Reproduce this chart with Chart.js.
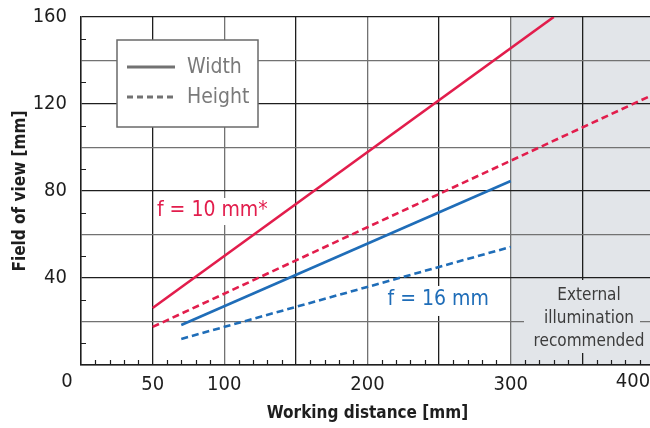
<!DOCTYPE html>
<html>
<head>
<meta charset="utf-8">
<script src="https://cdn.jsdelivr.net/npm/chart.js@4.4.1/dist/chart.umd.min.js"></script>
<style>
  html, body { margin: 0; padding: 0; background: #fff; overflow: hidden; }
  #wrap { width: 662px; height: 428px; position: relative; }
</style>
</head>
<body>
<div id="wrap"><canvas id="fov-chart"></canvas></div>
<script>
// working distance [mm] -> field of view [mm]
const f10Distance = [50, 330]
const f10Width = [26.2, 160]
const f10HeightDistance = [50, 400]
const f10Height = [17.5, 124.5]
const f16Distance = [70, 300]
const f16Width = [18.4, 84.6]
const f16Height = [12, 54.3]

const xGridTicks = [0, 50, 100, 150, 200, 250, 300, 350, 400]
const xTickLabels = [50, 100, 200, 300]
const yTickLabels = [40, 80, 120, 160]
const shadeFrom = 300
const shadeText = ['External', 'illumination', 'recommended']
const seriesNames = ['Width', 'Height']
const lensLabels = ['f = 10 mm*', 'f = 16 mm']

const RED = '#e21d4c'
const BLUE = '#1f6db8'
const SHADE = '#e2e5e9'
const DARK = '#1e1e1e'
const GREY = '#727272'
const FONT = '"Liberation Sans Narrow", "DejaVu Sans Condensed", "Roboto", sans-serif'

Chart.defaults.font.family = FONT
Chart.defaults.color = DARK

const pts = (xs, ys) => xs.map((x, i) => ({ x: x, y: ys[i] }))

const decor = {
  id: 'decor',
  beforeDraw(chart) {
    const { ctx, chartArea: a, scales: { x } } = chart
    ctx.save()
    ctx.fillStyle = SHADE
    const sx = x.getPixelForValue(shadeFrom)
    ctx.fillRect(sx, a.top, a.right - sx, a.bottom - a.top)
    ctx.restore()
  },
  beforeDatasetsDraw(chart) {
    const { ctx, chartArea: a, scales: { x, y } } = chart
    ctx.save()

    // minor ticks, inside the axes
    ctx.strokeStyle = DARK
    ctx.lineWidth = 1.2
    ctx.beginPath()
    for (let v = 10; v < 400; v += 10) {
      if (v % 50 === 0) continue
      const px = Math.round(x.getPixelForValue(v)) + 0.5
      ctx.moveTo(px, a.bottom)
      ctx.lineTo(px, a.bottom - 5)
    }
    for (let v = 10; v < 160; v += 20) {
      const py = Math.round(y.getPixelForValue(v)) + 0.5
      ctx.moveTo(a.left, py)
      ctx.lineTo(a.left + 5, py)
    }
    ctx.stroke()

    // legend box
    ctx.fillStyle = '#fff'
    ctx.fillRect(117, 40, 141, 87)
    ctx.strokeStyle = '#6a6a6a'
    ctx.lineWidth = 1.5
    ctx.strokeRect(117, 40, 141, 87)
    ctx.strokeStyle = GREY
    ctx.lineWidth = 3
    ctx.beginPath()
    ctx.moveTo(127, 67); ctx.lineTo(175, 67)
    ctx.stroke()
    ctx.setLineDash([6, 4])
    ctx.beginPath()
    ctx.moveTo(127, 97); ctx.lineTo(175, 97)
    ctx.stroke()
    ctx.setLineDash([])
    ctx.fillStyle = '#7a7a7a'
    ctx.font = '21px ' + FONT
    ctx.textBaseline = 'middle'
    ctx.textAlign = 'left'
    ctx.fillText(seriesNames[0], 187, 68)
    ctx.fillText(seriesNames[1], 187, 98)

    // lens labels with white backing
    ctx.font = '21px ' + FONT
    const l1x = x.getPixelForValue(53), l1y = y.getPixelForValue(70.8)
    const w1 = ctx.measureText(lensLabels[0]).width
    ctx.fillStyle = '#fff'
    ctx.fillRect(l1x - 2, l1y - 13, w1 + 6, 27)
    ctx.fillStyle = RED
    ctx.fillText(lensLabels[0], l1x, l1y)
    const l2x = x.getPixelForValue(214), l2y = y.getPixelForValue(29.9)
    const w2 = ctx.measureText(lensLabels[1]).width
    ctx.fillStyle = '#fff'
    ctx.fillRect(l2x - 2, l2y - 14, w2 + 6, 30)
    ctx.fillStyle = BLUE
    ctx.fillText(lensLabels[1], l2x, l2y)

    // note in the shaded zone
    ctx.font = '17px ' + FONT
    ctx.textAlign = 'center'
    const cx = 589
    ctx.fillStyle = SHADE
    ctx.fillRect(524, 280, 116, 73)
    ctx.fillStyle = '#3c3c3c'
    shadeText.forEach((t, i) => ctx.fillText(t, cx, 296 + i * 23))
    ctx.restore()
  },
  afterDraw(chart) {
    const { ctx } = chart
    ctx.save()
    ctx.font = '20px ' + FONT
    ctx.fillStyle = DARK
    ctx.textBaseline = 'middle'
    ctx.textAlign = 'center'
    ctx.fillText('0', 67, 382)
    ctx.fillText('400', 633, 382)
    ctx.restore()
  }
}

const lineSet = (label, data, color, dashed) => ({
  label: label,
  data: data,
  borderColor: color,
  backgroundColor: color,
  borderWidth: 2.6,
  borderDash: dashed ? [7, 4] : [],
  pointRadius: 0,
  showLine: true,
  fill: false,
  tension: 0
})

new Chart(document.getElementById('fov-chart'), {
  type: 'scatter',
  data: {
    datasets: [
      lineSet('f10 width', pts(f10Distance, f10Width), RED, false),
      lineSet('f10 height', pts(f10HeightDistance, f10Height), RED, true),
      lineSet('f16 width', pts(f16Distance, f16Width), BLUE, false),
      lineSet('f16 height', pts(f16Distance, f16Height), BLUE, true)
    ]
  },
  options: {
    responsive: true,
    maintainAspectRatio: false,
    animation: false,
    layout: { padding: { top: 17, right: 0, left: 0, bottom: 0 } },
    plugins: { legend: { display: false }, tooltip: { enabled: false } },
    scales: {
      x: {
        type: 'linear',
        min: 0,
        max: 400,
        afterBuildTicks: (s) => { s.ticks = xGridTicks.map(v => ({ value: v })) },
        afterFit: (s) => { s.height = 63 },
        ticks: {
          font: { size: 20 },
          color: DARK,
          padding: 8,
          maxRotation: 0,
          autoSkip: false,
          callback: (v) => xTickLabels.includes(v) ? String(v) : ''
        },
        grid: {
          drawTicks: false,
          lineWidth: 1.3,
          color: (c) => c.tick && c.tick.value === 0 ? 'rgba(0,0,0,0)' : (c.tick && c.tick.value % 100 === 0 ? GREY : DARK)
        },
        border: { display: true, color: DARK, width: 1.6 },
        title: {
          display: true,
          text: 'Working distance [mm]',
          font: { size: 17, weight: 'bold' },
          color: DARK,
          padding: { top: 0, bottom: 4 }
        }
      },
      y: {
        min: 0,
        max: 160,
        afterFit: (s) => { s.width = 81; s.paddingTop = 0; s.paddingBottom = 0 },
        ticks: {
          stepSize: 20,
          font: { size: 20 },
          color: DARK,
          padding: 14,
          callback: (v) => yTickLabels.includes(v) ? String(v) : ''
        },
        grid: {
          drawTicks: false,
          lineWidth: 1.3,
          color: (c) => c.tick && c.tick.value % 40 === 0 ? DARK : GREY
        },
        border: { display: true, color: DARK, width: 1.6 },
        title: {
          display: true,
          text: 'Field of view [mm]',
          font: { size: 17, weight: 'bold' },
          color: DARK,
          padding: { top: 10, bottom: 0 }
        }
      }
    }
  },
  plugins: [decor]
})
</script>
</body>
</html>
